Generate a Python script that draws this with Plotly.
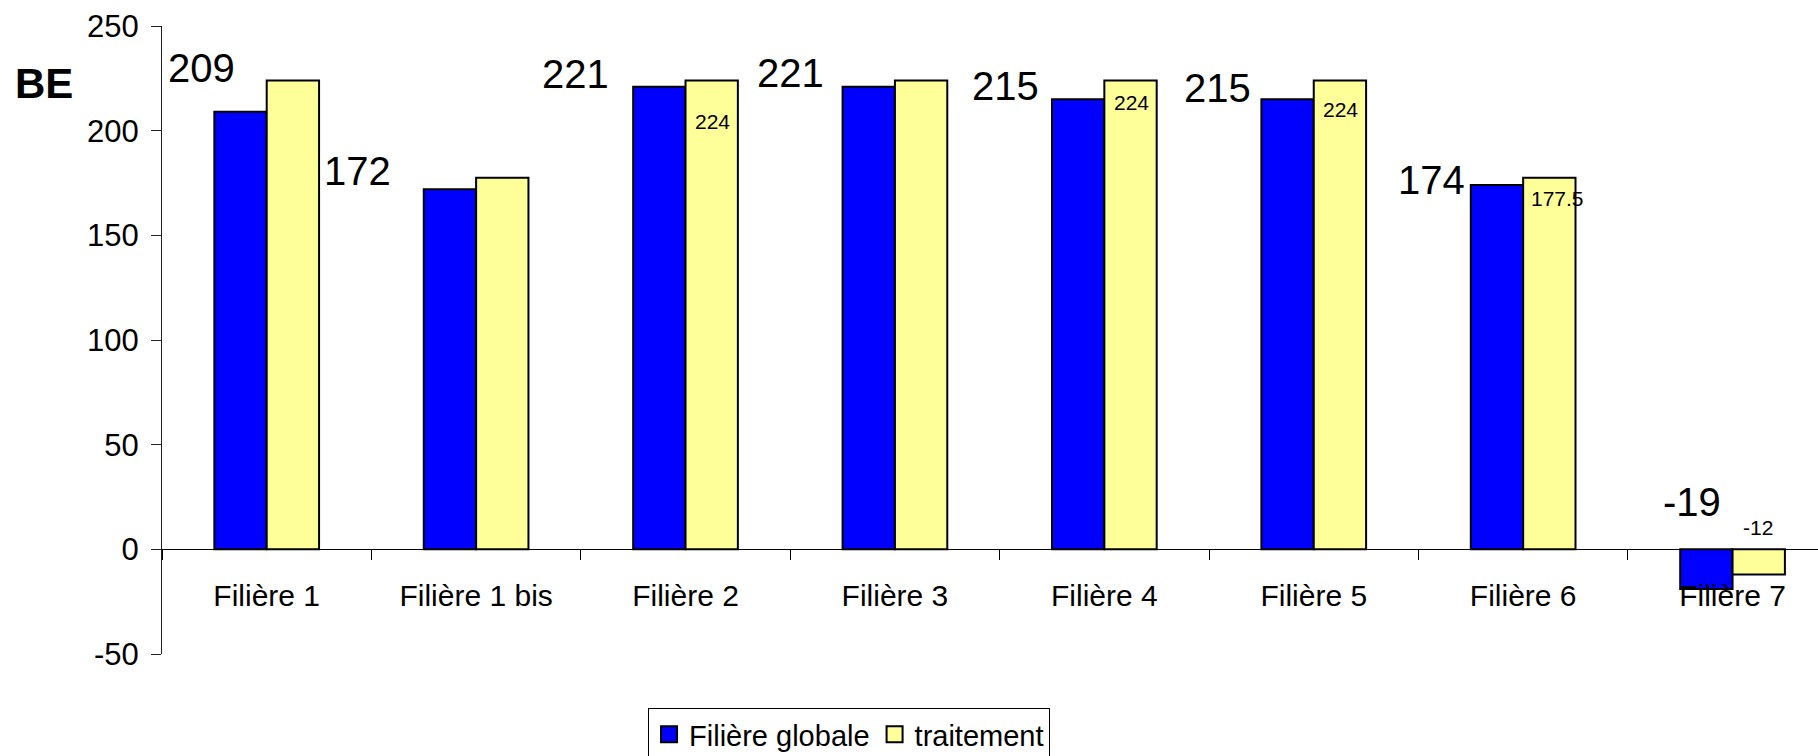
import plotly.graph_objects as go

categories = ["Filière 1", "Filière 1 bis", "Filière 2", "Filière 3", "Filière 4",
              "Filière 5", "Filière 6", "Filière 7"]
globale = [209, 172, 221, 221, 215, 215, 174, -19]
traitement = [224, 177.5, 224, 224, 224, 224, 177.5, -12]

# y-axis ticks
y_ticks = [-50, 0, 50, 100, 150, 200, 250]
y_tick_labels = ["-50", "0", "50", "100", "150", "200", "250"]

# labels shown (None = no label)
globale_labels = ["209", "172", "221", "221", "215", "215", "174", "-19"]
traitement_labels = [None, None, "224", None, "224", "224", "177.5", "-12"]

# label offsets in px (style, manually dragged labels in the original)
big_dx = [-39, -92, -84, -78, -73, -70, -65, -14]
big_dy = [44, 18, 13, 14, 13, 11, 5, 87]
small_dx = [0, 0, 1, 0, 1, 1, 8, -1]
small_dy = [0, 0, -41, 0, -22, -29, -21, 47]

FONT = "Arial, Liberation Sans, sans-serif"
BLUE = "#0000FF"
YELLOW = "#FFFF99"

fig = go.Figure()
fig.add_trace(go.Bar(x=categories, y=globale, name="Filière globale",
                     marker=dict(color=BLUE, line=dict(color="black", width=2)),
                     showlegend=False))
fig.add_trace(go.Bar(x=categories, y=traitement, name="traitement",
                     marker=dict(color=YELLOW, line=dict(color="black", width=2)),
                     showlegend=False))
# legend proxies
fig.add_trace(go.Scatter(x=[None], y=[None], mode="markers", name="Filière globale",
                         marker=dict(symbol="square", size=20, color=BLUE,
                                     line=dict(color="black", width=2))))
fig.add_trace(go.Scatter(x=[None], y=[None], mode="markers", name="traitement",
                         marker=dict(symbol="square", size=20, color=YELLOW,
                                     line=dict(color="black", width=2))))

bargap = 0.5
half = (1 - bargap) / 4  # offset of each bar centre from category centre

annotations = []
for i, (v, t) in enumerate(zip(globale, globale_labels)):
    if t is None:
        continue
    annotations.append(dict(x=i - half, y=v, xref="x", yref="y", text=t,
                            showarrow=False, xanchor="center", yanchor="middle",
                            xshift=big_dx[i], yshift=big_dy[i],
                            font=dict(family=FONT, size=40, color="black")))
for i, (v, t) in enumerate(zip(traitement, traitement_labels)):
    if t is None:
        continue
    annotations.append(dict(x=i + half, y=v, xref="x", yref="y", text=t,
                            showarrow=False, xanchor="center", yanchor="middle",
                            xshift=small_dx[i], yshift=small_dy[i],
                            font=dict(family=FONT, size=21, color="black")))
annotations.append(dict(x=-0.0713, y=0.9085, xref="paper", yref="paper", text="<b>BE</b>",
                        showarrow=False, xanchor="center", yanchor="middle",
                        font=dict(family=FONT, size=42, color="black")))

ymin, ymax = -50, 250
fig.update_layout(
    width=1818, height=756,
    margin=dict(l=162, r=0, t=26, b=102, autoexpand=False),
    paper_bgcolor="white", plot_bgcolor="white",
    barmode="group", bargap=bargap, bargroupgap=0,
    font=dict(family=FONT, size=30, color="black"),
    xaxis=dict(type="category", range=[-0.5, 7.408], anchor="free",
               position=(0 - ymin) / (ymax - ymin),
               showline=True, linecolor="black", linewidth=1,
               ticks="outside", ticklen=10, tickcolor="black", tickwidth=1,
               tickson="boundaries", showgrid=False, zeroline=False,
               tickfont=dict(family=FONT, size=30, color="black"),
               ticklabelstandoff=20),
    yaxis=dict(range=[ymin, ymax], tickmode="array", tickvals=y_ticks,
               ticktext=y_tick_labels, showline=True,
               linecolor="#222222", linewidth=1, ticks="outside", ticklen=10,
               tickcolor="#222222", showgrid=False, zeroline=False,
               tickfont=dict(family=FONT, size=31, color="black"),
               ticklabelstandoff=6),
    legend=dict(orientation="h", x=0.2935, xanchor="left", y=-0.086, yanchor="top",
                bordercolor="black", borderwidth=1, bgcolor="white",
                font=dict(family=FONT, size=29, color="black"),
                itemwidth=30, tracegroupgap=0),
    annotations=annotations,
)

fig.write_html("out.html")
